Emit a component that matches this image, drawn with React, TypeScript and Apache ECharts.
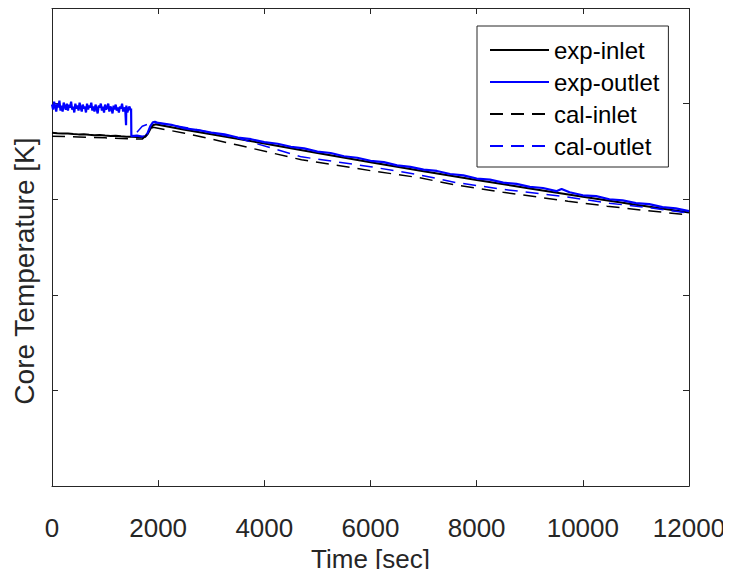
import React, { useEffect, useRef } from "react";
import * as echarts from "echarts";

// Values are in plot units (hidden y tick labels), time in seconds
const xTickValues = [0, 2000, 4000, 6000, 8000, 10000, 12000];

const expInlet: [number, number][] = [
  [0, 358.5], [100, 358], [200, 357.6], [300, 357.8], [400, 357.2], [500, 356.8],
  [600, 357], [700, 356.4], [800, 356], [900, 356.2], [1000, 355.6], [1100, 355.2],
  [1200, 355.4], [1300, 354.8], [1400, 354.5], [1500, 354.3], [1600, 354.2],
  [1700, 354], [1760, 354.5], [1800, 357], [1850, 362], [1900, 366], [1950, 367],
  [2000, 366.5], [2500, 361.5], [3000, 357], [4000, 347.5], [5000, 338], [6000, 328.5],
  [7000, 319.5], [8000, 310.5], [9000, 302], [10000, 293.5], [11000, 285.5], [12000, 277.5],
];

const expOutletNoisyTimes: number[] = [
  0, 20, 40, 60, 80, 100, 120, 140, 160, 180, 200, 220, 240, 260, 280, 300, 320, 340, 360, 380,
  400, 420, 440, 460, 480, 500, 520, 540, 560, 580, 600, 620, 640, 660, 680, 700, 720, 740, 760, 780,
  800, 820, 840, 860, 880, 900, 920, 940, 960, 980, 1000, 1020, 1040, 1060, 1080, 1100, 1120, 1140, 1160, 1180,
  1200, 1220, 1240, 1260, 1280, 1300, 1320, 1340, 1360, 1380, 1395, 1400, 1420, 1440, 1460, 1480,
];
const expOutletNoisyValues: number[] = [
  387, 382, 390, 385, 380, 388, 384, 391, 381, 386, 380, 389, 385, 382, 388, 381, 387, 384, 390, 382,
  385, 379, 388, 383, 386, 381, 389, 384, 380, 387, 383, 385, 379, 388, 382, 386, 384, 389, 381, 385,
  380, 387, 383, 378, 386, 384, 388, 381, 385, 379, 387, 382, 384, 388, 380, 385, 383, 378, 386, 382,
  387, 381, 384, 379, 385, 383, 388, 380, 384, 382, 366, 386, 379, 383, 385, 381,
];

const expOutletRest: [number, number][] = [
  [1490, 383], [1495, 355],
  [1500, 355], [1600, 355.5], [1700, 354.5], [1760, 355], [1800, 358], [1850, 365],
  [1900, 369], [1940, 369.5], [2000, 368.4], [2250, 366.5], [2500, 362.8], [2750, 361.2],
  [3000, 358.5], [3250, 356.8], [3500, 353.6], [3750, 351.9], [4000, 349], [4250, 347.3],
  [4500, 344.2], [4750, 342.6], [5000, 339.3], [5250, 337.9], [5500, 334.6], [5750, 333.1],
  [6000, 330], [6250, 328.6], [6500, 325.4], [6750, 323.8], [7000, 321], [7250, 319.7],
  [7500, 316.6], [7750, 315.2], [8000, 312], [8250, 310.9], [8500, 307.8], [8750, 306.6],
  [9000, 303.5], [9250, 302.4], [9500, 299.2], [9600, 301.5], [9750, 298.1], [10000, 295],
  [10250, 294.1], [10500, 291], [10750, 289.9], [11000, 287], [11250, 286], [11500, 283],
  [11750, 281.8], [12000, 279],
];

const calInlet: [number, number][] = [
  [0, 355], [500, 354.2], [1000, 353.3], [1500, 352.3], [1700, 352], [1780, 356],
  [1850, 361], [1903, 364], [2500, 358], [3500, 346], [4700, 331], [6000, 320],
  [6900, 313], [7555, 306], [8500, 298], [9721, 289], [10456, 284], [11200, 279.5],
  [12000, 275],
];

const calOutlet: [number, number][] = [
  [1600, 359], [1650, 362], [1700, 365], [1800, 367], [1930, 369], [2600, 363],
  [3500, 353], [4700, 334], [6000, 324], [6900, 316], [7600, 308], [8500, 301],
  [9600, 294], [10500, 287], [11300, 282], [12000, 277],
];

const seriesNames = ["exp-inlet", "exp-outlet", "cal-inlet", "cal-outlet"];

export default function App() {
  const ref = useRef<HTMLDivElement>(null);
  useEffect(() => {
    if (!ref.current) return;
    const chart = echarts.init(ref.current, undefined, { renderer: "svg" });
    const axisColor = "#262626";
    const font = "Liberation Sans, Arial, sans-serif";
    const expOutlet: [number, number][] = expOutletNoisyTimes
      .map((t, i) => [t, expOutletNoisyValues[i]] as [number, number])
      .concat(expOutletRest);
    const baseX = {
      type: "value" as const,
      min: 0,
      max: 12000,
      interval: 2000,
      splitLine: { show: false },
      axisLine: { show: true, onZero: false, lineStyle: { color: axisColor, width: 1 } },
      axisTick: { show: true, inside: true, length: 6, lineStyle: { color: axisColor } },
    };
    const baseY = {
      type: "value" as const,
      min: 0,
      max: 485,
      interval: 97,
      splitLine: { show: false },
      axisLabel: { show: false },
      axisLine: { show: true, onZero: false, lineStyle: { color: axisColor, width: 1 } },
      axisTick: { show: true, inside: true, length: 6, lineStyle: { color: axisColor } },
    };
    chart.setOption({
      animation: false,
      backgroundColor: "#ffffff",
      grid: { left: 52, top: 8, right: 42, bottom: 84, containLabel: false },
      legend: {
        data: seriesNames,
        orient: "vertical",
        left: 477,
        top: 26,
        padding: [12, 9, 9, 12],
        itemGap: 8,
        itemWidth: 59,
        itemHeight: 14,
        borderColor: axisColor,
        borderWidth: 1,
        backgroundColor: "#ffffff",
        itemStyle: { opacity: 0 },
        textStyle: { fontFamily: font, fontSize: 24, color: "#000", lineHeight: 24 },
      },
      xAxis: [
        {
          ...baseX,
          position: "bottom",
          name: "Time [sec]",
          nameLocation: "middle",
          nameGap: 58,
          nameTextStyle: { fontFamily: font, fontSize: 26, color: axisColor },
          axisLabel: {
            show: true,
            fontFamily: font,
            fontSize: 26,
            color: axisColor,
            margin: 29,
            customValues: xTickValues,
            formatter: (v: number) => String(v),
          },
        },
        { ...baseX, position: "top", axisLabel: { show: false } },
      ],
      yAxis: [
        {
          ...baseY,
          position: "left",
          name: "Core Temperature [K]",
          nameLocation: "middle",
          nameGap: 14,
          nameTextStyle: { fontFamily: font, fontSize: 28, color: axisColor, padding: [0, 48, 0, 0] },
        },
        { ...baseY, position: "right" },
      ],
      series: [
        {
          name: "exp-inlet",
          type: "line",
          data: expInlet,
          showSymbol: false,
          symbol: "none",
          lineStyle: { color: "#000000", width: 2 },
          itemStyle: { color: "#000000" },
        },
        {
          name: "exp-outlet",
          type: "line",
          data: expOutlet,
          showSymbol: false,
          symbol: "none",
          lineStyle: { color: "#0000ff", width: 2.2 },
          itemStyle: { color: "#0000ff" },
        },
        {
          name: "cal-inlet",
          type: "line",
          data: calInlet,
          showSymbol: false,
          symbol: "none",
          lineStyle: { color: "#000000", width: 1.5, type: [13, 8] },
          itemStyle: { color: "#000000" },
        },
        {
          name: "cal-outlet",
          type: "line",
          data: calOutlet,
          showSymbol: false,
          symbol: "none",
          lineStyle: { color: "#0000ff", width: 1.5, type: [13, 8] },
          itemStyle: { color: "#0000ff" },
        },
      ],
    });
    return () => chart.dispose();
  }, []);
  return <div ref={ref} style={{ width: 731, height: 577, margin: -8 }} />;
}
